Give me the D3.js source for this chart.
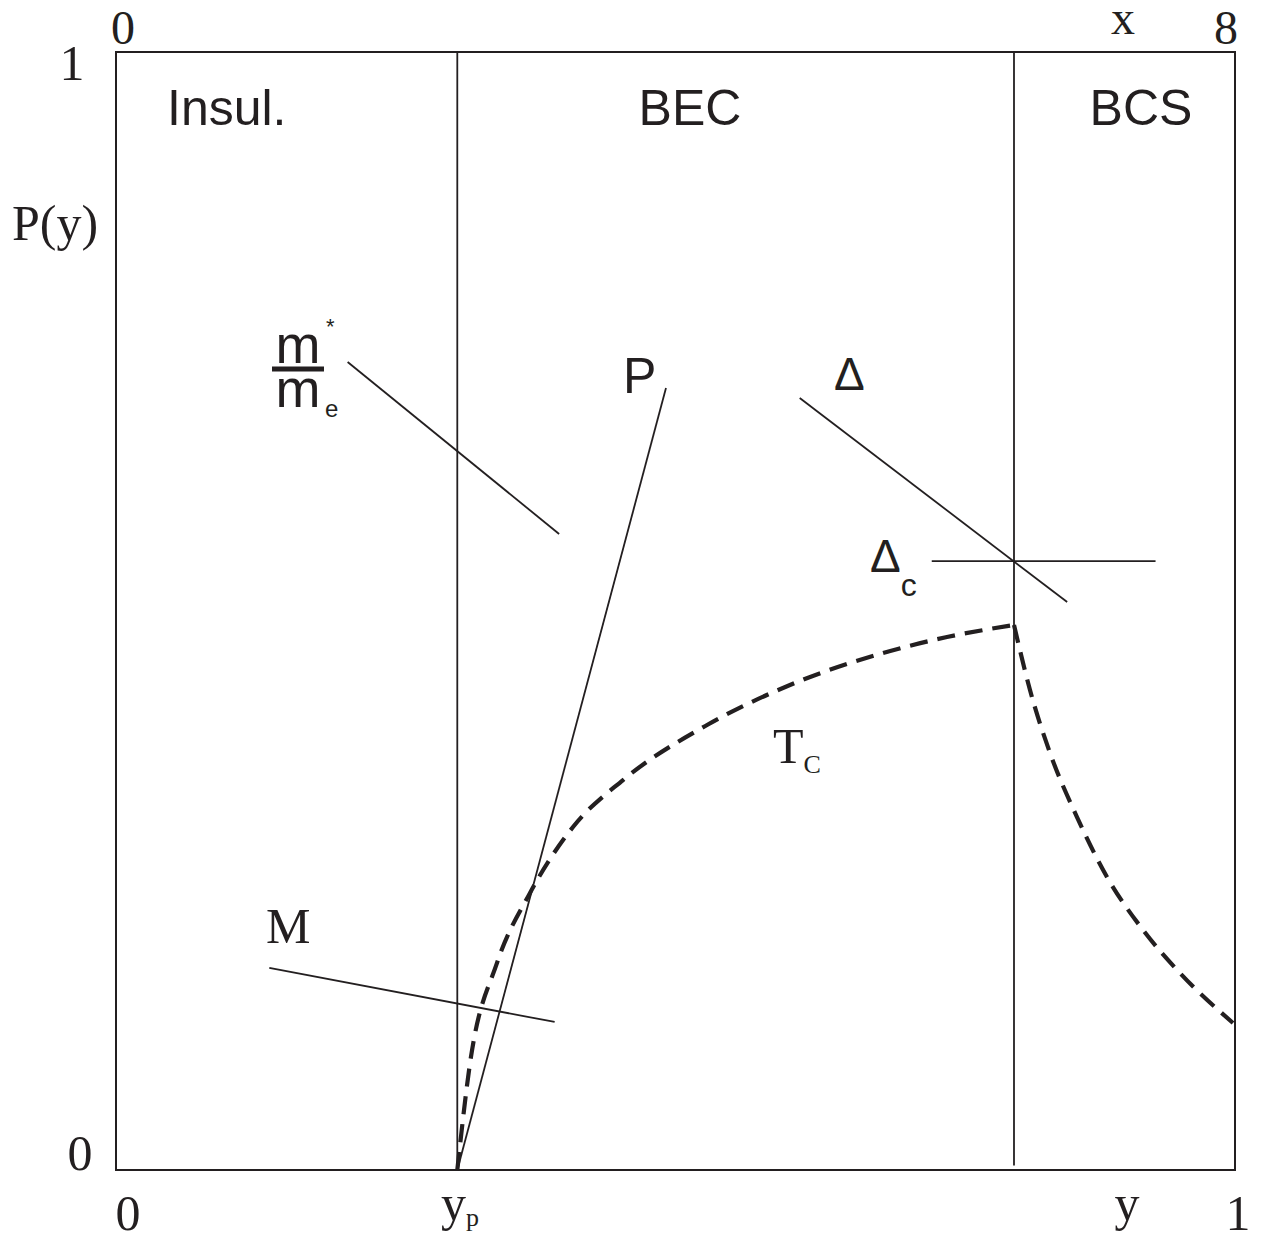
<!DOCTYPE html>
<html>
<head>
<meta charset="utf-8">
<script src="https://cdn.jsdelivr.net/npm/d3@7"></script>
<style>
  html, body { margin: 0; padding: 0; background: #fff; }
  svg { display: block; }
  .serif { font-family: "Liberation Serif", "Times New Roman", serif; fill: #231f20; }
  .sans { font-family: "Liberation Sans", Arial, sans-serif; fill: #231f20; }
</style>
</head>
<body>
<svg id="chart" width="1261" height="1241"></svg>
<script>
// ---- data (y along bottom, P(y) up the side, both 0..1) ----
const yp = 0.305;            // insulator / BEC boundary
const yBCS = 0.8025;         // BEC / BCS boundary

// straight lines [{x, y}, {x, y}]
const lineP = [{ x: 0.305, y: 0.0 }, { x: 0.4915, y: 0.6995 }];
const lineMass = [{ x: 0.207, y: 0.7227 }, { x: 0.396, y: 0.5689 }];
const lineDelta = [{ x: 0.611, y: 0.6905 }, { x: 0.85, y: 0.508 }];
const lineDeltaC = [{ x: 0.729, y: 0.5447 }, { x: 0.929, y: 0.5447 }];
const lineM = [{ x: 0.137, y: 0.1807 }, { x: 0.392, y: 0.1324 }];

// Tc dashed curve: rising branch (BEC) and falling branch (BCS)
const tcRiseX = [0.305, 0.3164, 0.3405, 0.37, 0.4084, 0.4531, 0.5282, 0.6023, 0.6854, 0.7426, 0.8025];
const tcRiseY = [0.0, 0.0957, 0.1852, 0.2478, 0.3068, 0.3488, 0.398, 0.4338, 0.4624, 0.4767, 0.4875];
const tcFallX = [0.8025, 0.8168, 0.8347, 0.8588, 0.8856, 0.9178, 0.9508, 0.9982];
const tcFallY = [0.4875, 0.4293, 0.373, 0.3157, 0.2621, 0.2147, 0.1762, 0.1315];

// ---- layout ----
const svg = d3.select("#chart");
const margin = { top: 52, right: 26, bottom: 71, left: 116 };
const width = 1261, height = 1241;

const x = d3.scaleLinear().domain([0, 1]).range([margin.left, width - margin.right]);
const y = d3.scaleLinear().domain([0, 1]).range([height - margin.bottom, margin.top]);

const ink = "#231f20";

// frame
svg.append("rect")
    .attr("x", x(0))
    .attr("y", y(1))
    .attr("width", x(1) - x(0))
    .attr("height", y(0) - y(1))
    .attr("fill", "none")
    .attr("stroke", ink)
    .attr("stroke-width", 2);

// region boundaries
[yp, yBCS].forEach(v => {
    svg.append("line")
        .attr("x1", x(v)).attr("x2", x(v))
        .attr("y1", y(1)).attr("y2", y(0.004))
        .attr("stroke", ink)
        .attr("stroke-width", 1.8);
});

// straight guide lines
const line = d3.line().x(d => x(d.x)).y(d => y(d.y));
[lineP, lineMass, lineDelta, lineDeltaC, lineM].forEach(seg => {
    svg.append("path")
        .datum(seg)
        .attr("d", line)
        .attr("fill", "none")
        .attr("stroke", ink)
        .attr("stroke-width", 1.8);
});

// Tc curve
const curve = d3.line()
    .x(d => x(d[0]))
    .y(d => y(d[1]))
    .curve(d3.curveMonotoneX);

[[tcRiseX, tcRiseY], [tcFallX, tcFallY]].forEach(([xs, ys]) => {
    svg.append("path")
        .datum(d3.zip(xs, ys))
        .attr("d", curve)
        .attr("fill", "none")
        .attr("stroke", ink)
        .attr("stroke-width", 4.2)
        .attr("stroke-dasharray", "18 10");
});

// ---- text ----
function label(cls, px, py, txt, size, anchor = "start") {
    return svg.append("text")
        .attr("class", cls)
        .attr("x", px)
        .attr("y", py)
        .attr("text-anchor", anchor)
        .style("font-size", size + "px")
        .text(txt);
}

// axis numbers (serif)
label("serif", 123, 44, "0", 48, "middle");
label("serif", 1123, 34, "x", 48, "middle");
label("serif", 1226, 44, "8", 48, "middle");
label("serif", 72, 80, "1", 50, "middle");
label("serif", 80, 1170, "0", 50, "middle");
label("serif", 128, 1230, "0", 50, "middle");
label("serif", 1127, 1220, "y", 50, "middle");
label("serif", 1238, 1230, "1", 50, "middle");
label("serif", 12, 240, "P(y)", 50);

const ypLabel = label("serif", 441, 1220, "y", 50);
ypLabel.append("tspan").attr("dy", 6).style("font-size", "26px").text("p");

// region names (sans)
label("sans", 167, 125, "Insul.", 50);
label("sans", 690, 125, "BEC", 50, "middle");
label("sans", 1141, 125, "BCS", 50, "middle");

// curve labels
label("sans", 623, 393, "P", 50);
label("sans", 834, 390, "\u0394", 46);
const dc = label("sans", 870, 572, "\u0394", 46);
dc.append("tspan").attr("dy", 24).style("font-size", "32px").text("c");

const tc = label("serif", 773, 763, "T", 50);
tc.append("tspan").attr("dy", 10).style("font-size", "26px").text("C");

label("serif", 266, 943, "M", 50);

// m*/m_e fraction
label("sans", 298, 363, "m", 54, "middle");
svg.append("line")
    .attr("x1", 272).attr("x2", 324)
    .attr("y1", 369).attr("y2", 369)
    .attr("stroke", ink)
    .attr("stroke-width", 5);
label("sans", 298, 407, "m", 54, "middle");
label("sans", 325, 417, "e", 24);
label("sans", 326, 334, "*", 22);
</script>
</body>
</html>
